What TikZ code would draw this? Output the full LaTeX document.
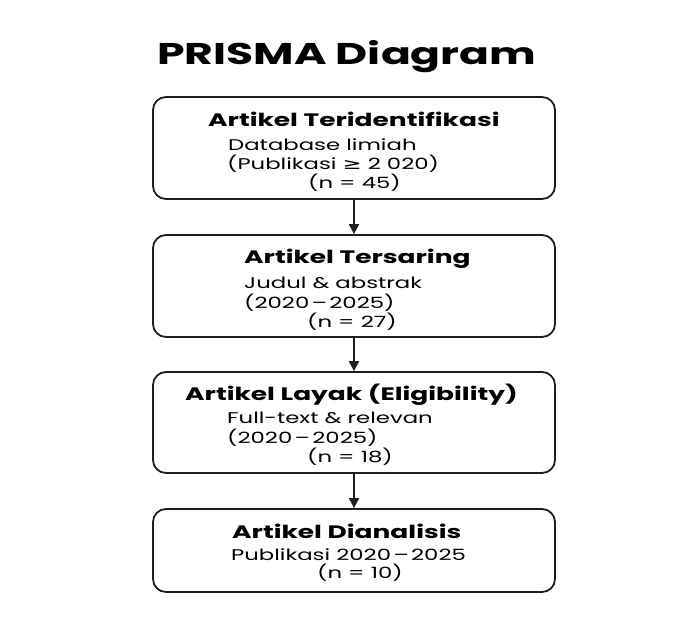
\documentclass[tikz,border=0pt]{standalone}
\usepackage{graphicx}
\usepackage{fontspec}
\setmainfont{Poppins}
\newfontfamily\symfont{DejaVu Sans}
\usetikzlibrary{arrows.meta}
% the lettering is set wide
\newcommand{\wide}[1]{\scalebox{1.47}[1]{#1}}
% slightly spaced dash between years
\newcommand{\yrdash}{\kern0.1em–\kern0.1em}

\begin{document}
\begin{tikzpicture}[x=1pt,y=-1pt,
  stage/.style={draw=black!88, line width=1.8pt, rounded corners=13pt,
    minimum width=402pt, inner sep=0pt},
  flow/.style={-{Triangle[length=10pt,width=10pt]}, line width=2pt, black!88},
  title/.style={anchor=base west, inner sep=0pt, font=\fontsize{30}{34}\selectfont\bfseries},
  head/.style={anchor=base west, inner sep=0pt, font=\fontsize{18}{21}\selectfont\bfseries},
  body/.style={anchor=base west, inner sep=0pt, font=\fontsize{15.5}{18}\selectfont},
]
\useasboundingbox[fill=white] (0,0) rectangle (686,626);

\node[title] (ttl) at (157,65) {\wide{PRISMA Diagram}};

% stage boxes
\node[stage, minimum height=102pt] (b1) at (354,148) {};
\node[stage, minimum height=102pt] (b2) at (354,286) {};
\node[stage, minimum height=101pt] (b3) at (354,422.5) {};
\node[stage, minimum height=83pt]  (b4) at (354,550.5) {};

% flow between stages
\draw[flow] (b1.south) -- (b2.north);
\draw[flow] (b2.south) -- (b3.north);
\draw[flow] (b3.south) -- (b4.north);

% stage 1
\node[head] (h1) at (208,126) {\wide{Artikel Teridentifikasi}};
\node[body] (l1a) at (228,150) {\wide{Database limiah}};
\node[body] (l1b) at (227,169) {\wide{(Publikasi {\symfont ≥} 2 020)}};
\node[body] (l1c) at (308,188) {\wide{(n = 45)}};

% stage 2
\node[head] (h2) at (244,263) {\wide{Artikel Tersaring}};
\node[body] (l2a) at (244,288) {\wide{Judul \& abstrak}};
\node[body] (l2b) at (244,308) {\wide{(2020\yrdash 2025)}};
\node[body] (l2c) at (307,327) {\wide{(n = 27)}};

% stage 3
\node[head] (h3) at (185,400) {\wide{Artikel Layak (Eligibility)}};
\node[body] (l3a) at (227,423) {\wide{Full-text \& relevan}};
\node[body] (l3b) at (227,443) {\wide{(2020\yrdash 2025)}};
\node[body] (l3c) at (307,462) {\wide{(n = 18)}};

% stage 4
\node[head] (h4) at (232,538) {\wide{Artikel Dianalisis}};
\node[body] (l4a) at (231,560) {\wide{Publikasi 2020\yrdash 2025}};
\node[body] (l4b) at (317,578) {\wide{(n = 10)}};
\end{tikzpicture}
\end{document}
